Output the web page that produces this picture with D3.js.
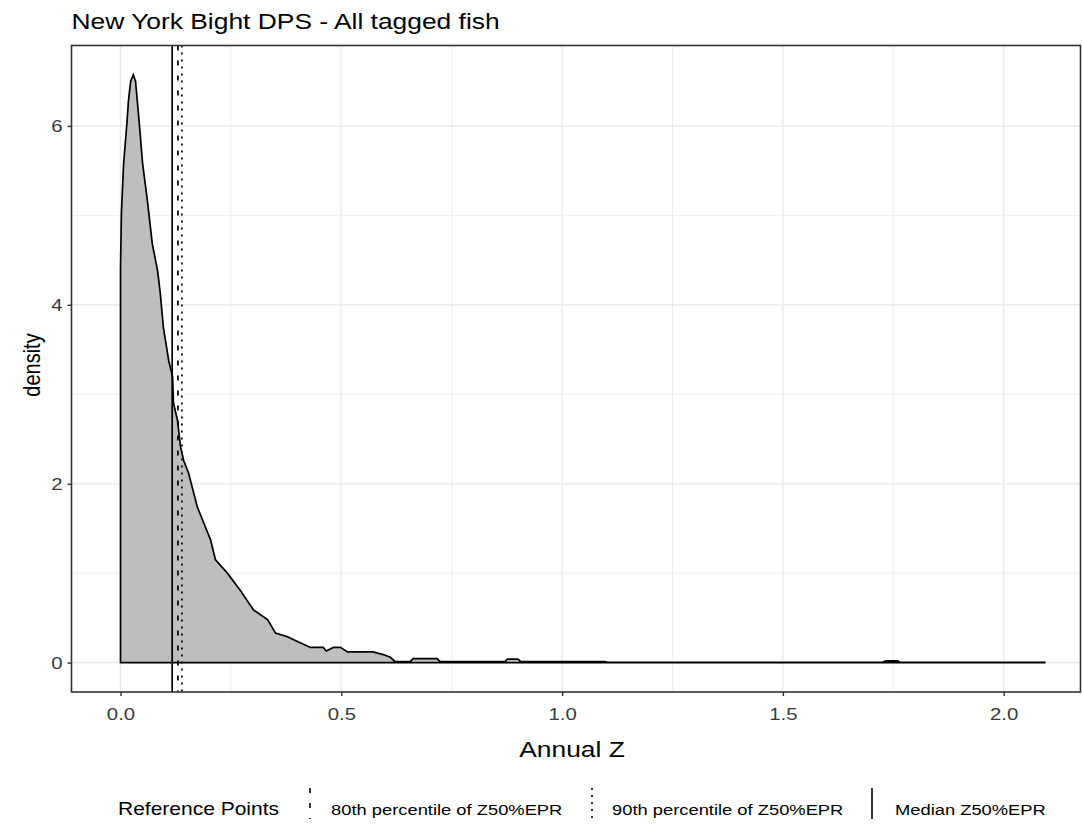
<!DOCTYPE html>
<html>
<head>
<meta charset="utf-8">
<script src="https://cdn.jsdelivr.net/npm/d3@7"></script>
<style>
body { margin: 0; background: #fff; }
text { font-family: "Liberation Sans", Arial, sans-serif; }
</style>
</head>
<body>
<svg width="1082" height="824"></svg>
<script>
// density estimate of annual Z
var zVals = [0, 0.002, 0.007, 0.014, 0.018, 0.023, 0.029, 0.034, 0.043, 0.050, 0.061, 0.072,
  0.084, 0.090, 0.097, 0.109, 0.118, 0.120, 0.129, 0.136, 0.143, 0.154, 0.174, 0.204, 0.215,
  0.242, 0.271, 0.301, 0.333, 0.351, 0.378, 0.403, 0.430, 0.459, 0.466, 0.482, 0.498, 0.514,
  0.572, 0.595, 0.611, 0.622, 0.656, 0.663, 0.717, 0.724, 0.871, 0.876, 0.900, 0.907, 1.097,
  1.102, 1.726, 1.733, 1.760, 1.765, 2.093];
var densVals = [4.40, 5.02, 5.58, 6.00, 6.28, 6.50, 6.57, 6.50, 6.00, 5.58, 5.16, 4.68,
  4.38, 4.13, 3.75, 3.38, 3.19, 2.90, 2.71, 2.41, 2.26, 2.12, 1.74, 1.37, 1.15,
  1.00, 0.81, 0.59, 0.48, 0.33, 0.29, 0.23, 0.17, 0.17, 0.13, 0.17, 0.17, 0.12,
  0.12, 0.09, 0.06, 0.012, 0.012, 0.045, 0.045, 0.012, 0.012, 0.04, 0.04, 0.012, 0.012,
  0.003, 0.003, 0.02, 0.02, 0.003, 0.003];

// reference points
var refNames = ["80th percentile of Z50%EPR", "90th percentile of Z50%EPR", "Median Z50%EPR"];
var refValues = [0.130, 0.139, 0.117];
var refDash = ["5,10", "2,5", null];

var xMajor = [0, 0.5, 1, 1.5, 2];
var xMinor = [0.25, 0.75, 1.25, 1.75];
var yMajor = [0, 2, 4, 6];
var yMinor = [1, 3, 5];

var svg = d3.select("svg");

// the original picture is stretched sideways, text too
var sx = 1.2;

var pLeft = 71.5, pRight = 1080.5, pTop = 45.5, pBottom = 692;

var x = d3.scaleLinear().domain([-0.111, 2.174]).range([pLeft, pRight]);
var y = d3.scaleLinear().domain([-0.3285, 6.8985]).range([pBottom, pTop]);

var data = zVals.map(function(z, i) { return {z: z, d: densVals[i]}; });

// grid
var grid = svg.append("g");
grid.selectAll(".xmin").data(xMinor).enter().append("line")
  .attr("x1", x).attr("x2", x).attr("y1", pTop).attr("y2", pBottom)
  .attr("stroke", "#ebebeb").attr("stroke-width", 0.8);
grid.selectAll(".ymin").data(yMinor).enter().append("line")
  .attr("y1", y).attr("y2", y).attr("x1", pLeft).attr("x2", pRight)
  .attr("stroke", "#ebebeb").attr("stroke-width", 0.8);
grid.selectAll(".xmaj").data(xMajor).enter().append("line")
  .attr("x1", x).attr("x2", x).attr("y1", pTop).attr("y2", pBottom)
  .attr("stroke", "#ebebeb").attr("stroke-width", 1.5);
grid.selectAll(".ymaj").data(yMajor).enter().append("line")
  .attr("y1", y).attr("y2", y).attr("x1", pLeft).attr("x2", pRight)
  .attr("stroke", "#ebebeb").attr("stroke-width", 1.5);

// density area
var area = d3.area()
  .x(function(d) { return x(d.z); })
  .y0(y(0))
  .y1(function(d) { return y(d.d); });

svg.append("path")
  .datum(data)
  .attr("d", area)
  .attr("fill", "#bebebe")
  .attr("stroke", "#000")
  .attr("stroke-width", 1.7)
  .attr("stroke-linejoin", "miter");

// reference lines
svg.selectAll(".ref").data(refValues).enter().append("line")
  .attr("x1", x).attr("x2", x).attr("y1", pTop).attr("y2", pBottom)
  .attr("stroke", "#000").attr("stroke-width", 1.7)
  .attr("stroke-dasharray", function(d, i) { return refDash[i]; });

// panel border
svg.append("rect")
  .attr("x", pLeft).attr("y", pTop)
  .attr("width", pRight - pLeft).attr("height", pBottom - pTop)
  .attr("fill", "none").attr("stroke", "#333").attr("stroke-width", 1.6);

// axes
var xAxis = svg.append("g")
  .attr("transform", "translate(0," + pBottom + ")")
  .call(d3.axisBottom(x).tickValues(xMajor).tickFormat(d3.format(".1f")).tickSizeOuter(0).tickSize(4).tickPadding(12));
var yAxis = svg.append("g")
  .attr("transform", "translate(" + pLeft + ",0)")
  .call(d3.axisLeft(y).tickValues(yMajor).tickFormat(d3.format("d")).tickSizeOuter(0).tickSize(4).tickPadding(5));

[xAxis, yAxis].forEach(function(a) {
  a.select(".domain").remove();
  a.selectAll(".tick line").attr("stroke", "#333").attr("stroke-width", 1.4);
  a.selectAll(".tick text").attr("fill", "#3a3a3a").style("font-size", "17px")
    .style("font-family", '"Liberation Sans", Arial, sans-serif')
    .attr("transform", "scale(" + sx + ",1)");
});
yAxis.selectAll(".tick text").attr("x", -9 / sx);

function addText(g, px, py, size, str, anchor) {
  return g.append("text")
    .attr("transform", "translate(" + px + "," + py + ") scale(" + sx + ",1)")
    .attr("text-anchor", anchor || "start")
    .style("font-size", size + "px")
    .text(str);
}

// titles
addText(svg, pLeft, 29, 22, "New York Bight DPS - All tagged fish");
addText(svg, 572, 757, 22, "Annual Z", "middle");

svg.append("text")
  .attr("transform", "translate(40,365) rotate(-90) scale(1," + sx + ")")
  .attr("text-anchor", "middle")
  .style("font-size", "20px")
  .text("density");

// legend
var legend = svg.append("g");
addText(legend, 118, 815, 17.5, "Reference Points");

var keyX = [310, 592, 872];
var labX = [331, 612, 895];
refNames.forEach(function(name, i) {
  legend.append("line")
    .attr("x1", keyX[i]).attr("x2", keyX[i])
    .attr("y1", 788).attr("y2", 819)
    .attr("stroke", "#000").attr("stroke-width", 1.6)
    .attr("stroke-dasharray", refDash[i]);
  addText(legend, labX[i], 815, 15.3, name);
});
</script>
</body>
</html>
